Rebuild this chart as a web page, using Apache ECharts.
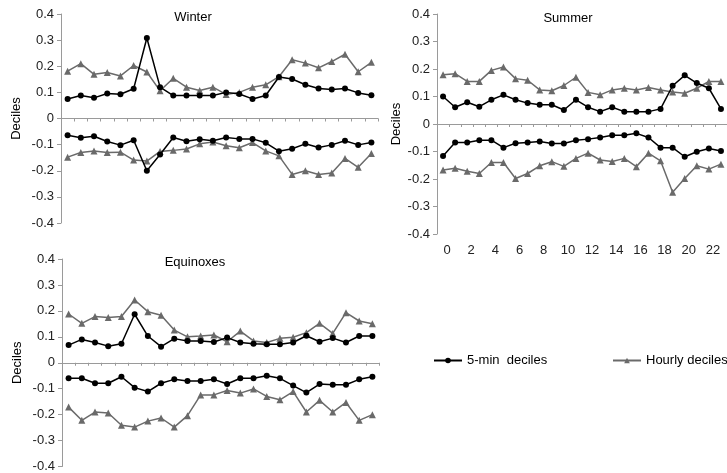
<!DOCTYPE html>
<html><head><meta charset="utf-8">
<script src="https://cdn.jsdelivr.net/npm/echarts@6/dist/echarts.min.js"></script>
<style>html,body{margin:0;padding:0;background:#fff}#c{width:727px;height:473px}</style>
</head><body><div id="c"></div>
<script>
// ---------- DATA ----------
const hours = ['0','1','2','3','4','5','6','7','8','9','10','11','12','13','14','15','16','17','18','19','20','21','22','23'];
const panelTitles = ['Winter', 'Summer', 'Equinoxes'];
const seriesNames = ['5-min  deciles', 'Hourly deciles'];
const yAxisTitle = 'Deciles';

// Winter
const winterUpper5min  = [0.075,0.088,0.079,0.096,0.093,0.114,0.308,0.120,0.088,0.088,0.088,0.088,0.100,0.094,0.075,0.088,0.159,0.151,0.129,0.115,0.111,0.115,0.098,0.089];
const winterUpperHour  = [0.181,0.210,0.169,0.176,0.163,0.203,0.178,0.106,0.154,0.120,0.107,0.120,0.092,0.100,0.120,0.129,0.160,0.225,0.212,0.194,0.218,0.246,0.179,0.215];
const winterLower5min  = [-0.064,-0.074,-0.068,-0.088,-0.102,-0.083,-0.200,-0.138,-0.073,-0.087,-0.079,-0.085,-0.073,-0.078,-0.078,-0.093,-0.125,-0.116,-0.097,-0.111,-0.101,-0.085,-0.101,-0.092];
const winterLowerHour  = [-0.148,-0.130,-0.124,-0.130,-0.129,-0.159,-0.163,-0.126,-0.122,-0.117,-0.097,-0.090,-0.104,-0.112,-0.092,-0.124,-0.143,-0.214,-0.200,-0.214,-0.209,-0.153,-0.187,-0.134];

// Summer
const summerUpper5min  = [0.100,0.061,0.079,0.063,0.088,0.106,0.088,0.076,0.070,0.070,0.051,0.088,0.061,0.045,0.061,0.045,0.045,0.045,0.055,0.139,0.177,0.149,0.130,0.055];
const summerUpperHour  = [0.179,0.183,0.155,0.155,0.195,0.207,0.165,0.159,0.124,0.121,0.140,0.170,0.115,0.106,0.124,0.130,0.124,0.133,0.124,0.116,0.112,0.130,0.155,0.155];
const summerLower5min  = [-0.116,-0.067,-0.067,-0.059,-0.059,-0.086,-0.070,-0.067,-0.064,-0.071,-0.071,-0.059,-0.055,-0.049,-0.041,-0.041,-0.034,-0.049,-0.086,-0.086,-0.119,-0.101,-0.089,-0.098];
const summerLowerHour  = [-0.167,-0.161,-0.172,-0.180,-0.140,-0.140,-0.198,-0.180,-0.152,-0.137,-0.154,-0.125,-0.106,-0.131,-0.136,-0.125,-0.155,-0.106,-0.134,-0.248,-0.198,-0.152,-0.164,-0.146];

// Equinoxes
const equinoxUpper5min = [0.068,0.090,0.078,0.064,0.073,0.187,0.103,0.062,0.093,0.084,0.084,0.080,0.097,0.078,0.073,0.071,0.071,0.078,0.104,0.081,0.095,0.078,0.103,0.103];
const equinoxUpperHour = [0.188,0.152,0.178,0.174,0.178,0.242,0.197,0.183,0.126,0.100,0.103,0.107,0.081,0.122,0.084,0.078,0.094,0.098,0.116,0.152,0.113,0.193,0.161,0.150];
const equinoxLower5min = [-0.060,-0.060,-0.079,-0.079,-0.054,-0.096,-0.111,-0.079,-0.064,-0.070,-0.070,-0.064,-0.082,-0.060,-0.060,-0.050,-0.060,-0.088,-0.115,-0.082,-0.085,-0.085,-0.064,-0.054];
const equinoxLowerHour = [-0.171,-0.222,-0.190,-0.194,-0.241,-0.248,-0.225,-0.213,-0.248,-0.204,-0.124,-0.124,-0.107,-0.117,-0.101,-0.130,-0.143,-0.111,-0.190,-0.145,-0.190,-0.153,-0.222,-0.200];

// ---------- LAYOUT / STYLE ----------
const FONT = 'Liberation Sans, Arial, sans-serif';
const AXIS_GREY = '#9a9a9a';
const BLACK = '#000000';
const GREY = '#6a6a6a';

const panels = [
  { title: panelTitles[0], grid: {left: 61,  top: 14,  width: 317, height: 209}, titlePos: [188, 6],  gap: 38, xLabels: false,
    data: [winterUpper5min, winterUpperHour, winterLower5min, winterLowerHour] },
  { title: panelTitles[1], grid: {left: 437, top: 14,  width: 292, height: 220}, titlePos: [563, 7],  gap: 34, xLabels: true,
    data: [summerUpper5min, summerUpperHour, summerLower5min, summerLowerHour] },
  { title: panelTitles[2], grid: {left: 62,  top: 259, width: 317, height: 208}, titlePos: [190, 251], gap: 38, xLabels: false,
    data: [equinoxUpper5min, equinoxUpperHour, equinoxLower5min, equinoxLowerHour] }
];

const grids = [], xAxes = [], yAxes = [], series = [], titles = [];
panels.forEach((p, gi) => {
  grids.push(Object.assign({containLabel: false}, p.grid));
  titles.push({ text: p.title, left: p.titlePos[0], top: p.titlePos[1], textAlign: 'center',
    textStyle: {fontFamily: FONT, fontSize: 13, fontWeight: 'normal', color: '#000'} });
  const mainX = xAxes.length;
  xAxes.push({
    type: 'category', gridIndex: gi, data: hours, position: 'bottom', boundaryGap: true,
    axisLine: {onZero: true, lineStyle: {color: AXIS_GREY, width: 1}},
    axisTick: {show: true, interval: 0, length: 3, lineStyle: {color: AXIS_GREY}},
    axisLabel: {show: false}, splitLine: {show: false}
  });
  if (p.xLabels) {
    xAxes.push({
      type: 'category', gridIndex: gi, data: hours, position: 'bottom', boundaryGap: true,
      axisLine: {show: false, onZero: false}, axisTick: {show: false},
      axisLabel: {show: true, interval: 1, margin: 10, padding: [0,0,0,8],
        fontFamily: FONT, fontSize: 13, color: '#222'},
      splitLine: {show: false}
    });
  }
  const yi = yAxes.length;
  yAxes.push({
    type: 'value', gridIndex: gi, min: -0.4, max: 0.4, interval: 0.1,
    name: yAxisTitle, nameLocation: 'middle', nameGap: p.gap,
    nameTextStyle: {fontFamily: FONT, fontSize: 13, color: '#000'},
    axisLine: {show: true, lineStyle: {color: AXIS_GREY, width: 1}},
    axisTick: {show: true, length: 4, lineStyle: {color: AXIS_GREY}},
    axisLabel: {fontFamily: FONT, fontSize: 13, color: '#222', margin: 7,
      formatter: v => { const r = Math.round(v * 10) / 10; return r === 0 ? '0' : r.toFixed(1); }},
    splitLine: {show: false}
  });
  p.data.forEach((arr, k) => {
    const is5 = (k % 2 === 0);
    series.push({
      type: 'line', name: is5 ? seriesNames[0] : seriesNames[1],
      xAxisIndex: mainX, yAxisIndex: yi, data: arr,
      symbol: is5 ? 'circle' : 'triangle', symbolSize: is5 ? 6 : 7,
      lineStyle: {color: is5 ? BLACK : GREY, width: 1.5},
      itemStyle: {color: is5 ? BLACK : GREY},
      z: is5 ? 3 : 2, animation: false, silent: true
    });
  });
});

const legendCommon = {
  orient: 'horizontal', top: 354, padding: 0, itemWidth: 28, itemHeight: 7, itemGap: 10, selectedMode: false,
  textStyle: {fontFamily: FONT, fontSize: 13, color: '#000'}
};

const chart = echarts.init(document.getElementById('c'), null, {renderer: 'canvas'});
chart.setOption({
  backgroundColor: '#fff',
  animation: false,
  title: titles,
  legend: [
    Object.assign({}, legendCommon, {left: 433, data: [seriesNames[0]]}),
    Object.assign({}, legendCommon, {left: 612, data: [seriesNames[1]]})
  ],
  grid: grids, xAxis: xAxes, yAxis: yAxes, series: series
});
</script></body></html>
